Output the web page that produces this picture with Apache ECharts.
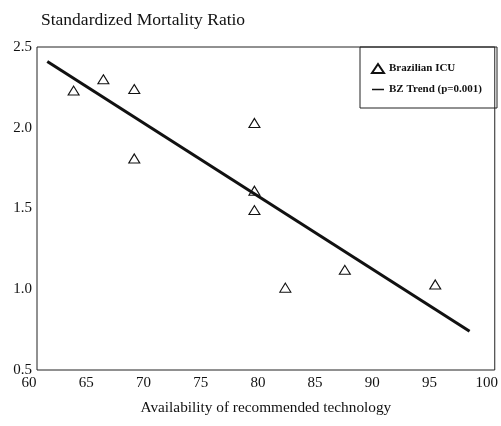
<!DOCTYPE html>
<html><head><meta charset="utf-8">
<script src="https://cdn.jsdelivr.net/npm/echarts@6/dist/echarts.min.js"></script>
<style>html,body{margin:0;padding:0;background:#fff}#c{width:501px;height:426px}</style>
</head><body><div id="c"></div>
<script>
const icuX = [63.2, 65.8, 68.5, 68.5, 79.0, 79.0, 79.0, 81.7, 86.9, 94.8];
const icuY = [2.23, 2.30, 2.24, 1.81, 2.03, 1.61, 1.49, 1.01, 1.12, 1.03];
const trendX = [60.9, 97.8];
const trendY = [2.41, 0.74];
const xTicks = [60, 65, 70, 75, 80, 85, 90, 95, 100];
const yTicks = [0.5, 1.0, 1.5, 2.0, 2.5];
const seriesNames = ['Brazilian ICU', 'BZ Trend (p=0.001)'];
const titleText = 'Standardized Mortality Ratio';
const xName = 'Availability of recommended technology';

const serif = '"Liberation Serif", "Times New Roman", serif';
const chart = echarts.init(document.getElementById('c'));
chart.setOption({
  animation: false,
  backgroundColor: '#fff',
  title: { text: titleText, left: 36, top: 6, textStyle: { fontFamily: serif, fontSize: 17.5, fontWeight: 'normal', color: '#111' } },
  grid: { left: 37, right: 4, top: 47, bottom: 56, show: true, borderColor: '#222', borderWidth: 1 },
  xAxis: {
    type: 'value', min: 60, max: 100, interval: 5,
    axisLine: { show: false }, axisTick: { show: false }, splitLine: { show: false },
    axisLabel: { fontFamily: serif, fontSize: 15, color: '#111', margin: 6, padding: [0, 16, 0, 0],
      formatter: v => xTicks.includes(v) ? String(v) : '' },
    name: xName, nameLocation: 'middle', nameGap: 30,
    nameTextStyle: { fontFamily: serif, fontSize: 15.3, color: '#111' }
  },
  yAxis: {
    type: 'value', min: 0.5, max: 2.5, interval: 0.5,
    axisLine: { show: false }, axisTick: { show: false }, splitLine: { show: false },
    axisLabel: { fontFamily: serif, fontSize: 15, color: '#111', margin: 5,
      formatter: v => yTicks.some(t => Math.abs(t - v) < 1e-9) ? v.toFixed(1) : '' }
  },
  graphic: [{ type: 'rect', shape: { x: 360, y: 47, width: 137, height: 61 }, style: { fill: 'none', stroke: '#222', lineWidth: 1 }, z: 10 }],
  legend: {
    orient: 'vertical', left: 366, top: 58, itemGap: 10, itemWidth: 12, itemHeight: 9,
    textStyle: { fontFamily: serif, fontSize: 11, fontWeight: 'bold', color: '#111' },
    data: [
      { name: seriesNames[0], icon: 'triangle' },
      { name: seriesNames[1], itemStyle: { opacity: 0 }, lineStyle: { width: 1.5, color: '#111' } }
    ]
  },
  series: [
    { name: seriesNames[0], type: 'scatter', symbol: 'triangle', symbolSize: [11, 9],
      itemStyle: { color: '#fff', borderColor: '#111', borderWidth: 1.1, opacity: 1 },
      data: icuX.map((x, i) => [x, icuY[i]]) },
    { name: seriesNames[1], type: 'line', showSymbol: false, symbol: 'none',
      lineStyle: { color: '#111', width: 3 }, itemStyle: { color: '#111' },
      data: trendX.map((x, i) => [x, trendY[i]]) }
  ]
});
</script></body></html>
